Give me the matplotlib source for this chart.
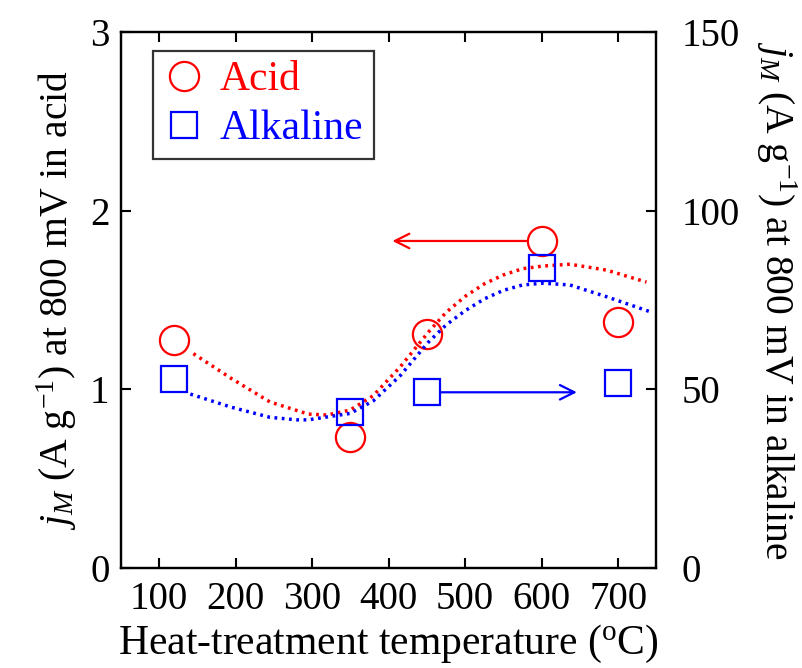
import matplotlib
matplotlib.use("Agg")
import matplotlib.pyplot as plt
import numpy as np

plt.rcParams['font.family'] = ['Liberation Serif', 'DejaVu Serif']
plt.rcParams['mathtext.fontset'] = 'custom'
plt.rcParams['mathtext.rm'] = 'Liberation Serif'
plt.rcParams['mathtext.it'] = 'Liberation Serif:italic'

# heat-treatment temperatures (deg C)
temps = [120, 350, 450, 600, 700]
# mass activity at 800 mV, acid (A/g)
acid = [1.276, 0.736, 1.310, 1.830, 1.377]
# mass activity at 800 mV, alkaline (A/g)
alkaline = [52.9, 43.8, 49.2, 83.9, 51.9]

# trend curves
acid_fit_t = [145, 195, 245, 295, 320, 350, 380, 415, 452, 475, 500, 525, 550,
              575, 602, 637, 685, 737]
acid_fit = [1.20, 1.06, 0.93, 0.862, 0.857, 0.885, 0.965, 1.125, 1.32, 1.43,
            1.52, 1.59, 1.64, 1.675, 1.69, 1.70, 1.667, 1.60]
alk_fit_t = [141, 195, 245, 280, 295, 350, 380, 415, 452, 475, 500, 525, 550,
             575, 602, 637, 685, 742]
alk_fit = [48.7, 45.0, 42.2, 41.5, 41.5, 43.3, 46.8, 53.8, 63.2, 68.0, 72.0,
           75.3, 77.7, 79.2, 79.7, 79.2, 75.9, 71.7]

fs = 28
fig = plt.figure(figsize=(8.02, 6.68), dpi=100)
ax = fig.add_axes([0.1505, 0.1493, 0.668, 0.8032])
ax2 = ax.twinx()

dots = (0, (0.8, 1.3))
ax.plot(acid_fit_t, acid_fit, color='red', lw=2.5, linestyle=dots)
ax2.plot(alk_fit_t, alk_fit, color='blue', lw=2.5, linestyle=dots)

ax.plot(temps, acid, 'o', ms=21, mfc='none', mec='red', mew=1.6, label='Acid')
ax2.plot(temps, alkaline, 's', ms=19, mfc='none', mec='blue', mew=1.6, label='Alkaline')

# arrows pointing to the axis each series belongs to
ax.annotate('', xy=(405, acid[3]), xytext=(temps[3], acid[3]),
            arrowprops=dict(arrowstyle='->', color='red', lw=1.6,
                            mutation_scale=26, shrinkA=11, shrinkB=0))
ax2.annotate('', xy=(646, alkaline[2]), xytext=(temps[2], alkaline[2]),
             arrowprops=dict(arrowstyle='->', color='blue', lw=1.6,
                             mutation_scale=26, shrinkA=10, shrinkB=0))

ax.set_xlim(50, 750)
ax.set_ylim(0, 3)
ax2.set_ylim(0, 150)
ax.set_xticks(np.arange(100, 701, 100))
ax.set_yticks([0, 1, 2, 3])
ax2.set_yticks([0, 50, 100, 150])

ax.tick_params(axis='x', direction='in', top=True, length=7, width=1.5,
               labelsize=fs, pad=9)
ax.tick_params(axis='y', direction='in', length=7, width=1.5, labelsize=fs, pad=8)
ax2.tick_params(axis='y', direction='in', length=7, width=1.5, labelsize=fs, pad=18)
for a in (ax, ax2):
    for s in a.spines.values():
        s.set_linewidth(1.6)

ax.set_xlabel(r'Heat-treatment temperature ($^{\mathrm{o}}$C)', fontsize=30, labelpad=4)
ax.set_ylabel(r'$j_M$ (A g$^{-1}$) at 800 mV in acid', fontsize=28.5, labelpad=8)
ax2.set_ylabel(r'$j_M$ (A g$^{-1}$) at 800 mV in alkaline', fontsize=28.5,
               rotation=270, labelpad=42)

h1, l1 = ax.get_legend_handles_labels()
h2, l2 = ax2.get_legend_handles_labels()
leg = ax2.legend(h1 + h2, l1 + l2, loc='upper left', bbox_to_anchor=(0.06, 0.965),
                 fontsize=30, frameon=True, fancybox=False, edgecolor='black',
                 handletextpad=0.35, borderpad=0.25, labelspacing=0.25,
                 handlelength=1.0, markerscale=1.0, borderaxespad=0)
leg.get_frame().set_linewidth(1.6)
for txt, c in zip(leg.get_texts(), ['red', 'blue']):
    txt.set_color(c)

fig.savefig('out.png', dpi=100)
